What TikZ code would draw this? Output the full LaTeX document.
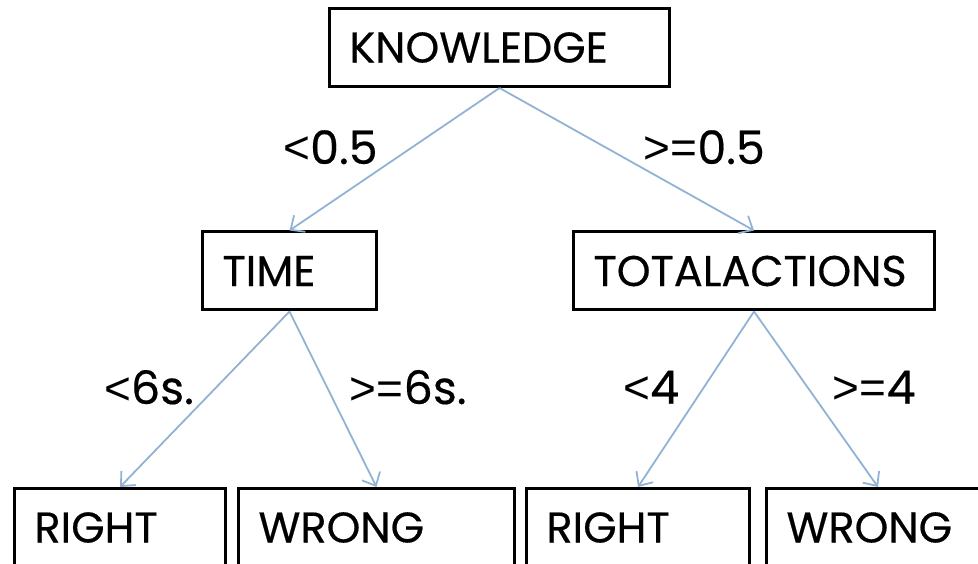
\documentclass[tikz,border=0pt]{standalone}
\usepackage{fontspec}
\setmainfont{Poppins}[FakeBold=0.4]
\newfontfamily\relfont{Liberation Sans}
\usetikzlibrary{arrows.meta}
\definecolor{linkblue}{RGB}{145,178,212}
\newcommand\rel[1]{{\relfont #1}}

\tikzset{
    box/.style={draw=black, line width=3pt, inner xsep=20pt, minimum height=78pt,
        align=left, font=\fontsize{43}{50}\selectfont},
    link/.style={draw=linkblue, line width=1.8pt, ->},
    cond/.style={font=\fontsize{46}{54}\selectfont, inner xsep=16pt, yshift=12pt}
}

\begin{document}
\begin{tikzpicture}[x=1pt, y=-1pt, >={Straight Barb[length=11pt, width=20pt]}]
    \useasboundingbox (0,0) rectangle (978,564);
    \clip (0,0) rectangle (978,564);
    % tree nodes
    \node[box, text width=300pt](know) at (499.5,47.5) {KNOWLEDGE};
    \node[box, text width=134pt](time) at (289.5,271) {TIME};
    \node[box, text width=321pt](total) at (754,271) {TOTALACTIONS};
    \node[box, text width=171pt](right1) at (120,527.5) {RIGHT};
    \node[box, text width=236pt](wrong1) at (376.5,527.5) {WRONG};
    \node[box, text width=183pt](right2) at (638,527.5) {RIGHT};
    \node[box, text width=183pt](wrong2) at (878,527.5) {WRONG};
    % splits
    \draw[link](know.south) -- (time.north) node[midway, left, cond]{\rel{<}0.5};
    \draw[link](know.south) -- (total.north) node[midway, right, cond]{\rel{>=}0.5};
    \draw[link](time.south) -- (right1.north) node[midway, left, cond, xshift=6pt]{\rel{<}6s.};
    \draw[link](time.south) -- (wrong1.north) node[midway, right, cond]{\rel{>=}6s.};
    \draw[link](total.south) -- (right2.north) node[midway, left, cond]{\rel{<}4};
    \draw[link](total.south) -- (wrong2.north) node[midway, right, cond]{\rel{>=}4};
\end{tikzpicture}
\end{document}
